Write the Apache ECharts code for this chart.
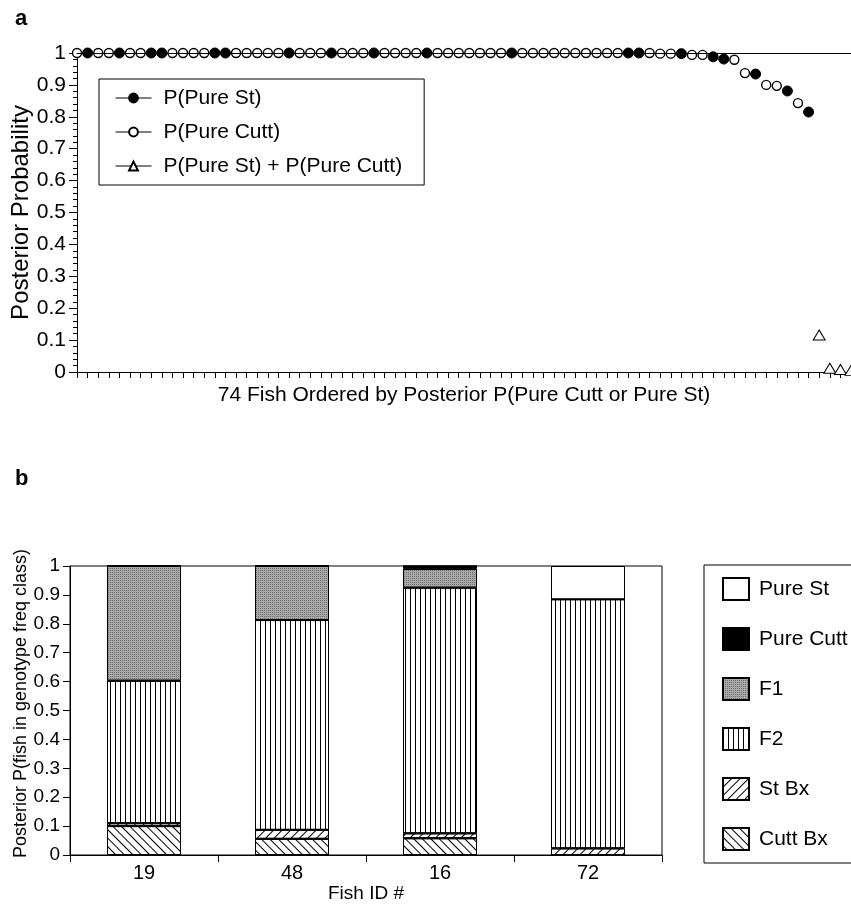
<!DOCTYPE html>
<html><head><meta charset="utf-8">
<script src="https://cdn.jsdelivr.net/npm/echarts@6/dist/echarts.min.js"></script>
<style>html,body{margin:0;padding:0;background:#fff}#c{width:851px;height:905px}</style>
</head><body><div id="c"></div>
<script>
// ---------- Panel a data ----------
const fishRank = Array.from({length: 74}, (_, i) => String(i + 1));
const pPureSt = [
  null,1,null,null,1,null,null,1,1,null,
  null,null,null,1,1,null,null,null,null,null,
  1,null,null,null,1,null,null,null,1,null,
  null,null,null,1,null,null,null,null,null,null,
  null,1,null,null,null,null,null,null,null,null,
  null,null,1,1,null,null,null,0.998,null,null,
  0.988,0.981,null,null,0.934,null,null,0.881,null,0.815,
  null,null,null,null
];
const pPureCutt = [
  1,null,1,1,null,1,1,null,null,1,
  1,1,1,null,null,1,1,1,1,1,
  null,1,1,1,null,1,1,1,null,1,
  1,1,1,null,1,1,1,1,1,1,
  1,null,1,1,1,1,1,1,1,1,
  1,1,null,null,1,0.998,0.998,null,0.994,0.994,
  null,null,0.979,0.937,null,0.900,0.897,null,0.843,null,
  null,null,null,null
];
const pSum = [
  null,null,null,null,null,null,null,null,null,null,
  null,null,null,null,null,null,null,null,null,null,
  null,null,null,null,null,null,null,null,null,null,
  null,null,null,null,null,null,null,null,null,null,
  null,null,null,null,null,null,null,null,null,null,
  null,null,null,null,null,null,null,null,null,null,
  null,null,null,null,null,null,null,null,null,null,
  0.116,0.012,0.008,0.005
];
const legendA = ['P(Pure St)', 'P(Pure Cutt)', 'P(Pure St) + P(Pure Cutt)'];

// ---------- Panel b data ----------
const fishIds = ['19', '48', '16', '72'];
const cuttBx   = [0.100, 0.056, 0.058, 0];
const stBx     = [0.010, 0.031, 0.017, 0.023];
const f2       = [0.493, 0.726, 0.850, 0.862];
const f1       = [0.397, 0.187, 0.065, 0];
const pureCutt = [0, 0, 0.010, 0];
const pureSt   = [0, 0, 0, 0.115];
const legendB = ['Pure St', 'Pure Cutt', 'F1', 'F2', 'St Bx', 'Cutt Bx'];

const FONT = '"Liberation Sans", Arial, Helvetica, sans-serif';
const BLACK = '#000';

const chart = echarts.init(document.getElementById('c'), null, {renderer: 'canvas'});

const axisLineStyle = {show: true, lineStyle: {color: BLACK, width: 1}};

function barSeries(name, data, itemStyle) {
  return {
    name, type: 'bar', stack: 'b', data, xAxisIndex: 2, yAxisIndex: 1,
    barWidth: '50%',
    itemStyle: Object.assign({borderColor: BLACK, borderWidth: 1}, itemStyle),
    emphasis: {disabled: true}
  };
}

const option = {
  backgroundColor: '#fff',
  animation: false,
  textStyle: {fontFamily: FONT, color: BLACK},
  title: [
    {text: 'a', left: 10, top: 3, textStyle: {fontFamily: FONT, fontSize: 22, fontWeight: 'bold', color: BLACK}},
    {text: 'b', left: 10, top: 463, textStyle: {fontFamily: FONT, fontSize: 22, fontWeight: 'bold', color: BLACK}}
  ],
  legend: [
    {
      data: legendA, orient: 'vertical', left: 99, top: 79,
      padding: [8, 22, 8, 16], itemWidth: 36, itemHeight: 11, itemGap: 12,
      textStyle: {fontFamily: FONT, fontSize: 21, lineHeight: 22, color: BLACK, padding: [0, 0, 0, 7]},
      borderColor: BLACK, borderWidth: 1, borderRadius: 0, selectedMode: false,
      lineStyle: {color: BLACK, width: 1, opacity: 1}
    },
    {
      data: legendB, orient: 'vertical', left: 704, top: 565,
      padding: [12, 80, 12, 18], itemWidth: 26, itemHeight: 22, itemGap: 26,
      icon: 'rect',
      textStyle: {fontFamily: FONT, fontSize: 21, lineHeight: 22, color: BLACK, padding: [0, 0, 0, 5]},
      borderColor: BLACK, borderWidth: 1, borderRadius: 0, selectedMode: false
    }
  ],
  grid: [
    {left: 77, right: 0, top: 53, height: 319},
    {left: 70, right: 189, top: 566, bottom: 50, show: true, borderColor: BLACK, borderWidth: 1, backgroundColor: 'transparent'}
  ],
  xAxis: [
    {
      type: 'category', gridIndex: 0, data: fishRank, boundaryGap: false,
      axisLine: axisLineStyle,
      axisTick: {show: true, interval: 0, length: 6, lineStyle: {color: BLACK}},
      axisLabel: {show: false}, splitLine: {show: false},
      name: '74 Fish Ordered by Posterior P(Pure Cutt or Pure St)',
      nameLocation: 'middle', nameGap: 13,
      nameTextStyle: {fontFamily: FONT, fontSize: 21, color: BLACK, verticalAlign: 'top'}
    },
    {
      type: 'category', gridIndex: 0, data: fishRank, boundaryGap: false, position: 'top', z: 5,
      axisLine: axisLineStyle, axisTick: {show: false}, axisLabel: {show: false}, splitLine: {show: false}
    },
    {
      type: 'category', gridIndex: 1, data: fishIds,
      axisLine: axisLineStyle,
      axisTick: {show: true, length: 7, lineStyle: {color: BLACK}},
      axisLabel: {fontFamily: FONT, fontSize: 20, color: BLACK, margin: 8},
      name: 'Fish ID #', nameLocation: 'middle', nameGap: 28,
      nameTextStyle: {fontFamily: FONT, fontSize: 19, color: BLACK, verticalAlign: 'top'}
    }
  ],
  yAxis: [
    {
      type: 'value', gridIndex: 0, min: 0, max: 1, interval: 0.1,
      axisLine: axisLineStyle,
      axisTick: {show: true, length: 8, lineStyle: {color: BLACK}},
      minorTick: {show: true, splitNumber: 5, length: 4, lineStyle: {color: BLACK}},
      splitLine: {show: false},
      axisLabel: {fontFamily: FONT, fontSize: 21, color: BLACK, margin: 11},
      name: 'Posterior Probability', nameLocation: 'middle', nameGap: 44, nameMoveOverlap: false,
      nameTextStyle: {fontFamily: FONT, fontSize: 24, color: BLACK}
    },
    {
      type: 'value', gridIndex: 1, min: 0, max: 1, interval: 0.1,
      axisLine: axisLineStyle,
      axisTick: {show: true, length: 7, lineStyle: {color: BLACK}},
      splitLine: {show: false},
      axisLabel: {fontFamily: FONT, fontSize: 19, color: BLACK, margin: 10},
      name: 'Posterior P(fish in genotype freq class)', nameLocation: 'middle', nameGap: 40, nameMoveOverlap: false,
      nameTextStyle: {fontFamily: FONT, fontSize: 18, color: BLACK, padding: [0, 0, 0, 14]}
    }
  ],
  series: [
    {
      name: 'P(Pure St)', type: 'line', data: pPureSt, xAxisIndex: 0, yAxisIndex: 0,
      symbol: 'circle', symbolSize: 10, showSymbol: true, showAllSymbol: true,
      lineStyle: {opacity: 0}, itemStyle: {color: BLACK, borderColor: BLACK, borderWidth: 1},
      emphasis: {disabled: true}, z: 3
    },
    {
      name: 'P(Pure Cutt)', type: 'line', data: pPureCutt, xAxisIndex: 0, yAxisIndex: 0,
      symbol: 'circle', symbolSize: 9, showSymbol: true, showAllSymbol: true,
      lineStyle: {opacity: 0}, itemStyle: {color: '#fff', borderColor: BLACK, borderWidth: 1.4},
      emphasis: {disabled: true}, z: 3
    },
    {
      name: 'P(Pure St) + P(Pure Cutt)', type: 'line', data: pSum, xAxisIndex: 0, yAxisIndex: 0,
      symbol: 'triangle', symbolSize: [12, 10], showSymbol: true, showAllSymbol: true,
      lineStyle: {opacity: 0}, itemStyle: {color: '#fff', borderColor: BLACK, borderWidth: 1},
      emphasis: {disabled: true}, z: 3
    },
    barSeries('Cutt Bx', cuttBx, {color: '#fff', decal: {symbol: 'rect', symbolSize: 1, dashArrayX: [6, 0], dashArrayY: [1, 5], rotation: Math.PI / 4, color: BLACK}}),
    barSeries('St Bx', stBx, {color: '#fff', decal: {symbol: 'rect', symbolSize: 1, dashArrayX: [6, 0], dashArrayY: [1, 4.5], rotation: -Math.PI / 4, color: BLACK}}),
    barSeries('F2', f2, {color: '#fff', decal: {symbol: 'rect', symbolSize: 1, dashArrayX: [1, 3.6], dashArrayY: [6, 0], rotation: 0, color: BLACK}}),
    barSeries('F1', f1, {color: '#a9a9a9', decal: {symbol: 'rect', symbolSize: 1, dashArrayX: [1, 1], dashArrayY: [1, 1], rotation: 0, color: '#6e6e6e'}}),
    barSeries('Pure Cutt', pureCutt, {color: BLACK}),
    barSeries('Pure St', pureSt, {color: '#fff'})
  ]
};
chart.setOption(option);
</script>
</body></html>
